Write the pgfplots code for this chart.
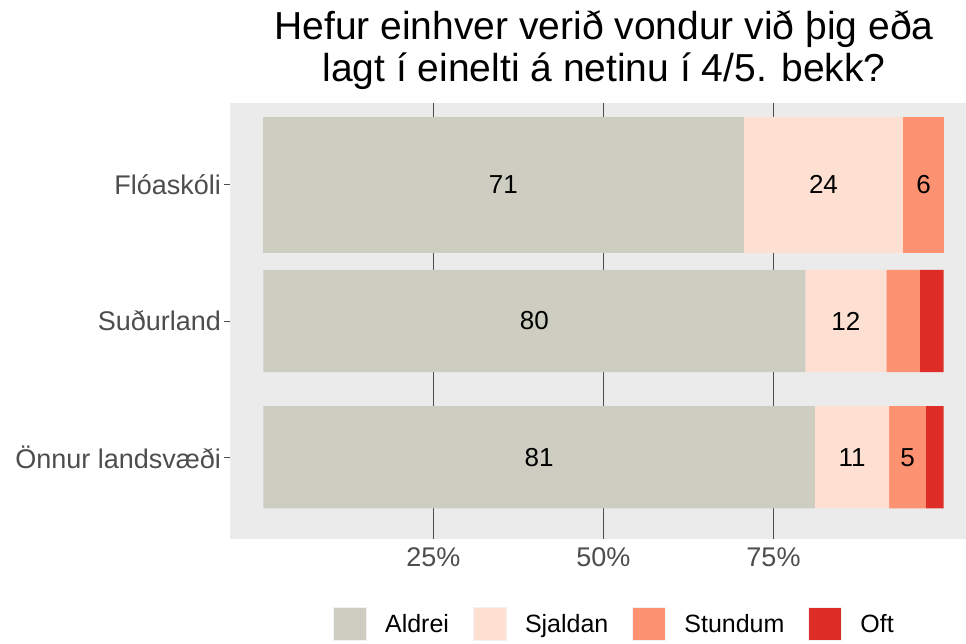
\documentclass[border=0pt]{standalone}
\usepackage{pgfplots}
\pgfplotsset{compat=1.18}
\usepackage{fontspec}
\setmainfont{Liberation Sans}
\definecolor{aldrei}{HTML}{CDCDC1}
\definecolor{sjaldan}{HTML}{FEE0D2}
\definecolor{stundum}{HTML}{FC9272}
\definecolor{oft}{HTML}{DE2D26}
\definecolor{panelbg}{HTML}{EBEBEB}
\definecolor{keybg}{HTML}{F2F2F2}
\definecolor{tickgray}{HTML}{4D4D4D}
\pgfplotsset{
  keybar/.style={fill=#1, draw=none, legend image code/.code={
     \fill[keybg] (0pt,-17pt) rectangle (34pt,17pt);
     \fill[#1] (1pt,-16pt) rectangle (33pt,16pt);}},
  vals/.style={nodes near coords, point meta=explicit symbolic,
     nodes near coords style={anchor=center, font=\fontsize{26}{30}\selectfont, text=black}}
}
\begin{document}
\begin{tikzpicture}
\useasboundingbox (-230pt,-104pt) rectangle (736pt,539pt);
\begin{axis}[
  at={(0pt,0pt)}, anchor=south west,
  scale only axis, width=736pt, height=436pt,
  xbar stacked,
  xmin=-4.9, xmax=103.3, ymin=-0.6, ymax=2.6,
  axis line style={draw=none},
  axis background/.style={fill=panelbg},
  xtick={25,50,75}, xticklabels={25\%,50\%,75\%},
  ytick={0,1,2}, yticklabels={Önnur landsvæði,Suðurland,Flóaskóli},
  xmajorgrids, major grid style={color=tickgray, line width=0.9pt},
  tick align=outside, major tick length=5.5pt,
  xtick style={draw=none}, ytick style={color=tickgray, line width=0.9pt},
  /pgf/number format/assume math mode=true,
  ticklabel style={font=\fontsize{27}{32}\selectfont, text=tickgray},
  title={Hefur einhver verið vondur við þig eða\\lagt í einelti á netinu í 4/5. bekk?},
  title style={font=\fontsize{39}{42.5}\selectfont, align=center, at={(0.5,1)}, anchor=south, inner sep=0pt, yshift=7pt, xshift=6pt},
  legend columns=4,
  legend style={at={(0.521,0)}, anchor=center, yshift=-85pt, draw=none, fill=none,
    font=\fontsize{25}{30}\selectfont, nodes={inner sep=0pt},
    /tikz/every odd column/.append style={column sep=18pt},
    /tikz/every even column/.append style={column sep=24pt}},
]
% Suðurland and Önnur landsvæði (narrower bars)
\addplot[keybar=aldrei, bar width=0.75, vals] coordinates {(81.1,0) [81] (79.7,1) [80] (0,2) []};
\addlegendentry{Aldrei}
\addplot[keybar=sjaldan, bar width=0.75, vals] coordinates {(10.9,0) [11] (11.9,1) [12] (0,2) []};
\addlegendentry{Sjaldan}
\addplot[keybar=stundum, bar width=0.75, vals] coordinates {(5.4,0) [5] (4.9,1) [] (0,2) []};
\addlegendentry{Stundum}
\addplot[keybar=oft, bar width=0.75, vals] coordinates {(2.6,0) [] (3.5,1) [] (0,2) []};
\addlegendentry{Oft}
% Flóaskóli (wider bar)
\addplot[fill=aldrei, draw=none, bar width=1.0, vals] coordinates {(0,0) [] (0,1) [] (70.6,2) [71]};
\addplot[fill=sjaldan, draw=none, bar width=1.0, vals] coordinates {(0,0) [] (0,1) [] (23.5,2) [24]};
\addplot[fill=stundum, draw=none, bar width=1.0, vals] coordinates {(0,0) [] (0,1) [] (5.9,2) [6]};
\addplot[fill=oft, draw=none, bar width=1.0, vals] coordinates {(0,0) [] (0,1) [] (0,2) []};
\end{axis}
\end{tikzpicture}
\end{document}
